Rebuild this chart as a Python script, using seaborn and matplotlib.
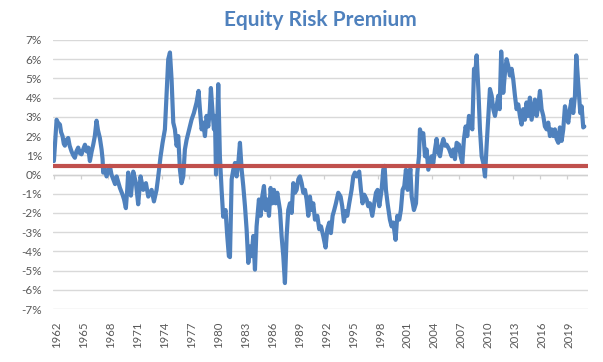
import matplotlib
matplotlib.use("Agg")
import matplotlib.pyplot as plt
import matplotlib.transforms as mtransforms
from matplotlib.ticker import FuncFormatter
from matplotlib.markers import TICKDOWN
import pandas as pd
import seaborn as sns

title = "Equity Risk Premium"

years = [
    1962.00, 1962.15, 1962.30, 1962.45, 1962.67, 1962.80, 1962.96, 1963.10, 1963.22, 1963.40,
    1963.59, 1963.75, 1963.96, 1964.15, 1964.33, 1964.50, 1964.70, 1964.90, 1965.07, 1965.25,
    1965.45, 1965.65, 1965.82, 1966.00, 1966.20, 1966.37, 1966.55, 1966.74, 1966.90, 1967.11,
    1967.30, 1967.41, 1967.48, 1967.65, 1967.85, 1968.05, 1968.22, 1968.40, 1968.60, 1968.80,
    1968.97, 1969.15, 1969.34, 1969.50, 1969.63, 1969.80, 1970.00, 1970.15, 1970.26, 1970.40,
    1970.56, 1970.70, 1970.82, 1971.00, 1971.12, 1971.25, 1971.37, 1971.50, 1971.63,
    1971.93, 1972.23, 1972.49, 1972.86, 1973.12, 1973.41, 1973.60, 1973.86, 1974.08, 1974.34,
    1974.52, 1974.71, 1974.90, 1975.08, 1975.27, 1975.45, 1975.64, 1975.82, 1976.01, 1976.19,
    1976.38, 1976.56, 1976.75, 1977.04, 1977.30, 1977.56, 1977.86, 1978.08, 1978.23, 1978.42,
    1978.60, 1978.79, 1978.97, 1979.16, 1979.34, 1979.45, 1979.64, 1979.79, 1979.90, 1980.02,
    1980.27, 1980.45, 1980.64, 1980.82, 1981.08, 1981.27, 1981.45, 1981.57,
    1981.76, 1981.94, 1982.13, 1982.31, 1982.50, 1982.68, 1982.87, 1983.05, 1983.24, 1983.42,
    1983.61, 1983.79, 1983.98, 1984.16, 1984.35, 1984.53, 1984.79, 1984.98, 1985.16, 1985.35,
    1985.54, 1985.72, 1985.91, 1986.09, 1986.28, 1986.46, 1986.65, 1986.83, 1987.13, 1987.31,
    1987.50, 1987.68, 1987.87, 1988.05, 1988.24, 1988.43, 1988.61, 1988.80, 1988.98, 1989.17,
    1989.35, 1989.54, 1989.72, 1989.91, 1990.09, 1990.28, 1990.46, 1990.65, 1990.83, 1991.02,
    1991.28, 1991.50, 1991.69,
    1991.94, 1992.20, 1992.39, 1992.61, 1992.79, 1992.98, 1993.16, 1993.35, 1993.61, 1993.87,
    1994.05, 1994.24, 1994.42, 1994.61, 1994.83, 1995.09, 1995.28, 1995.46, 1995.65, 1995.94,
    1996.13, 1996.31, 1996.50, 1996.76, 1996.94, 1997.13, 1997.39, 1997.61, 1997.80, 1997.98,
    1998.17, 1998.43, 1998.61, 1998.76, 1998.91, 1999.09, 1999.35, 1999.54, 1999.72, 1999.98,
    2000.17, 2000.39, 2000.57, 2000.76, 2000.95, 2001.13, 2001.32, 2001.50, 2001.62,
    2001.77, 2002.02, 2002.25, 2002.40, 2002.58, 2002.69, 2002.88, 2003.06, 2003.25, 2003.43,
    2003.62, 2003.80, 2003.99, 2004.17, 2004.36, 2004.54, 2004.73, 2004.92, 2005.10, 2005.29,
    2005.47, 2005.66, 2005.95, 2006.21, 2006.40, 2006.58, 2006.77, 2007.03, 2007.21, 2007.40,
    2007.58, 2007.77, 2007.95, 2008.14, 2008.32, 2008.51, 2008.70, 2008.88, 2008.99, 2009.18,
    2009.36, 2009.55, 2009.73, 2009.92, 2010.10, 2010.29, 2010.47, 2010.66, 2010.84, 2011.03,
    2011.21, 2011.40, 2011.55, 2011.72,
    2011.95, 2012.14, 2012.32, 2012.51, 2012.69, 2012.88, 2013.06, 2013.25, 2013.43, 2013.62,
    2013.80, 2013.99, 2014.17, 2014.36, 2014.54, 2014.73, 2014.91, 2015.10, 2015.29, 2015.47,
    2015.66, 2015.84, 2016.03, 2016.21, 2016.40, 2016.58, 2016.77, 2016.95, 2017.14, 2017.32,
    2017.51, 2017.69, 2017.88, 2018.07, 2018.25, 2018.44, 2018.62, 2018.81, 2018.99, 2019.18,
    2019.36, 2019.55, 2019.73, 2019.92, 2020.07, 2020.22, 2020.36, 2020.51, 2020.66, 2020.84,
    2020.96,
]

erp = [
    0.7, 1.8, 2.85, 2.7, 2.6, 2.2, 2.0, 1.6, 1.5, 1.8,
    1.9, 1.5, 1.2, 1.0, 0.87, 1.2, 1.4, 1.1, 1.05, 1.3,
    1.55, 1.2, 1.4, 0.7, 1.2, 1.55, 2.0, 2.8, 2.3, 1.9,
    1.3, 0.8, 0.1, 0.3, -0.1, 0.2, 0.45, 0.0, -0.25, -0.5,
    -0.1, -0.4, -0.7, -0.9, -1.05, -1.3, -1.75, -0.8, 0.1, -0.5,
    -1.1, -0.4, 0.15, -0.2, -0.45, -1.0, -1.55, -0.8, -0.1,
    -0.8, -0.45, -1.15, -0.8, -1.4, -0.8, -0.1, 0.95, 1.65, 2.35,
    4.1, 6.0, 6.35, 4.95, 2.7, 2.35, 1.5, 2.0, 0.25, -0.45,
    -0.1, 1.3, 1.8, 2.35, 2.85, 3.2, 3.75, 4.35, 3.4, 2.35,
    2.7, 2.0, 3.05, 2.5, 3.4, 4.5, 3.2, 2.35, 3.05, 0.0,
    4.7, 0.95, -0.8, -2.2, -1.85, -3.2, -4.25, -4.3,
    -0.25, 0.25, 0.6, -0.1, 0.6, 1.65, 0.25, -0.6, -1.65, -2.85,
    -4.6, -3.75, -4.25, -3.2, -4.95, -2.7, -1.3, -2.15, -1.15, -0.6,
    -1.85, -1.3, -2.15, -0.7, -1.5, -0.8, -1.5, -0.95, -1.85, -3.2,
    -4.25, -5.65, -3.2, -1.85, -1.5, -2.0, -0.45, -0.95, -0.8, -0.25,
    -0.1, -0.45, -0.95, -0.8, -1.3, -2.15, -1.15, -1.85, -1.5, -2.35,
    -2.15, -2.85, -2.7,
    -3.2, -3.8, -2.85, -2.5, -3.05, -2.15, -1.85, -1.5, -0.95, -1.15,
    -1.65, -2.45, -1.9, -2.15, -1.5, -0.8, -0.1, 0.1, -0.1, 0.15,
    -0.8, -1.5, -1.05, -1.3, -1.65, -1.5, -2.15, -1.5, -0.95, -0.8,
    -1.65, -0.8, 0.25, 0.45, -0.8, -1.5, -2.35, -2.7, -2.5, -3.4,
    -2.15, -2.35, -1.85, -0.8, -0.6, 0.25, -0.8, -0.25, 0.3,
    -1.15, -1.85, -1.5, 0.1, 0.95, 2.35, 2.0, 2.15, 0.95, 1.3,
    0.25, 0.6, 0.95, 0.6, 1.3, 1.85, 1.15, 0.95, 1.5, 1.85,
    1.5, 1.55, 1.3, 0.95, 1.3, 0.8, 1.65, 1.55, 0.95, 0.6,
    1.85, 2.5, 2.0, 3.05, 2.7, 2.35, 5.5, 5.5, 6.2, 4.45,
    2.35, 0.95, 0.6, -0.1, 1.5, 3.05, 4.45, 4.1, 3.4, 3.05,
    3.55, 4.1, 3.4, 6.4,
    4.25, 5.3, 6.0, 5.65, 5.15, 5.5, 4.95, 4.1, 3.4, 3.65,
    3.05, 2.6, 3.4, 2.85, 3.75, 3.05, 4.0, 2.85, 3.4, 3.9,
    3.05, 3.55, 4.35, 3.4, 3.05, 2.5, 2.35, 2.7, 2.0, 2.35,
    2.0, 2.35, 1.85, 1.65, 2.45, 1.75, 2.35, 3.55, 3.05, 2.7,
    3.4, 3.9, 3.2, 4.1, 6.2, 5.15, 4.1, 3.2, 3.55, 2.45,
    2.5,
]

average_erp = 0.45
tick_years = list(range(1962, 2020, 3))
tick_labels = [str(y) for y in tick_years]
y_ticks = list(range(-7, 8))

sns.set_theme(style="white")
plt.rcParams['font.family'] = ['Lato', 'DejaVu Sans']

fig = plt.figure(figsize=(6.03, 3.62), dpi=100)
ax = fig.add_axes([53 / 603, 1 - 309 / 362, (588 - 53) / 603, (309 - 40) / 362])

df = pd.DataFrame({"year": years, "erp": erp})
sns.lineplot(data=df, x="year", y="erp", ax=ax, color="#4F81BD",
             linewidth=3.0, zorder=3)
ax.axhline(average_erp, color="#C0504D", linewidth=3, zorder=4)

# zero (category) axis line with downward tick marks
ax.axhline(0, color="#D0D0D0", linewidth=1, zorder=1)
ax.plot(tick_years, [0] * len(tick_years), linestyle="none", marker=TICKDOWN,
        markersize=3, markeredgewidth=0.9, color="#D0D0D0", zorder=1)

ax.set_xlim(1961.9, 2021.37)
ax.set_ylim(-7, 7)
ax.set_yticks(y_ticks)
ax.yaxis.set_major_formatter(FuncFormatter(lambda v, p: f"{int(round(v))}%"))
ax.grid(axis='y', color='#D9D9D9', linewidth=1)
ax.grid(axis='x', visible=False)
ax.set_axisbelow(True)
ax.set_xticks(tick_years)
ax.set_xticklabels(tick_labels, rotation=90)
ax.tick_params(axis='x', length=0, pad=9, labelsize=8.2, labelcolor='#595959')
ax.tick_params(axis='y', length=0, pad=8, labelsize=8.5, labelcolor='#595959')
for s in ax.spines.values():
    s.set_visible(False)
ax.set_xlabel("")
ax.set_ylabel("")

offset = mtransforms.ScaledTranslation(2.5 / 100, 0, fig.dpi_scale_trans)
for lbl in ax.get_xticklabels():
    lbl.set_transform(lbl.get_transform() + offset)

fig.text(320 / 603, 1 - 20 / 362, title, ha='center', va='center',
         fontsize=15, fontweight='bold', color='#4F81BD')

fig.savefig("out.png", dpi=100)
